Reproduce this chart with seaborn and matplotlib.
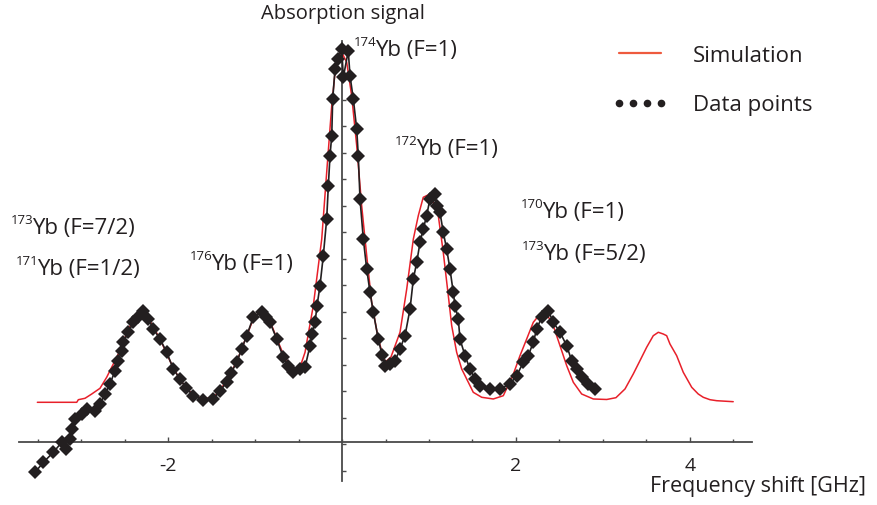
import matplotlib
matplotlib.use("Agg")
import matplotlib.pyplot as plt
from matplotlib.lines import Line2D
from matplotlib.ticker import FixedLocator, NullFormatter
import numpy as np
import pandas as pd
import seaborn as sns

# ---------------- data ----------------
sim_x = [-3.502, -3.049, -3.031, -2.954, -2.877, -2.782, -2.705, -2.629, -2.571, -2.460,
         -2.379, -2.299, -2.207, -2.092, -1.977, -1.862, -1.724, -1.598, -1.471, -1.333,
         -1.207, -1.092, -1.011, -0.931, -0.828, -0.747, -0.667, -0.563, -0.483, -0.425,
         -0.330, -0.233, -0.176, -0.118, -0.080, -0.031, -0.003, 0.054, 0.111, 0.169,
         0.226, 0.284, 0.341, 0.417, 0.494, 0.563, 0.667, 0.744, 0.820, 0.877,
         0.934, 1.011, 1.107, 1.164, 1.222, 1.261, 1.318, 1.376, 1.452, 1.509,
         1.606, 1.739, 1.854, 1.966, 2.046, 2.123, 2.199, 2.276, 2.353, 2.429,
         2.506, 2.583, 2.659, 2.755, 2.889, 3.043, 3.149, 3.253, 3.348, 3.425,
         3.502, 3.578, 3.636, 3.693, 3.732, 3.770, 3.847, 3.923, 4.020, 4.095,
         4.153, 4.230, 4.307, 4.497]
sim_y = [1.498, 1.498, 1.596, 1.649, 1.811, 2.026, 2.442, 2.943, 3.321, 4.226,
         4.717, 4.943, 4.566, 3.887, 3.057, 2.340, 1.811, 1.623, 1.698, 2.264,
         3.057, 4.038, 4.717, 4.943, 4.566, 3.887, 3.245, 2.755, 2.819, 3.385,
         5.143, 7.660, 10.177, 12.691, 13.951, 14.642, 14.706, 14.328, 13.068, 11.181,
         8.917, 7.030, 5.272, 3.887, 3.008, 3.208, 4.140, 5.774, 7.660, 8.540,
         9.234, 9.358, 8.540, 7.158, 5.521, 4.389, 3.385, 2.755, 2.253, 1.875,
         1.687, 1.623, 1.747, 2.528, 3.257, 3.887, 4.517, 4.830, 4.830, 4.389,
         3.634, 2.879, 2.253, 1.811, 1.623, 1.604, 1.672, 2.000, 2.566, 3.068,
         3.574, 4.011, 4.140, 4.075, 4.011, 3.698, 3.257, 2.630, 2.064, 1.811,
         1.687, 1.596, 1.558, 1.521]

data_x = [-3.529, -3.433, -3.318, -3.222, -3.172, -3.126, -3.107, -3.069, -2.992, -2.934,
          -2.839, -2.782, -2.724, -2.667, -2.609, -2.571, -2.532, -2.514, -2.456, -2.399,
          -2.341, -2.290, -2.226, -2.169, -2.092, -2.015, -1.939, -1.862, -1.793, -1.709,
          -1.594, -1.479, -1.402, -1.325, -1.276, -1.210, -1.153, -1.095, -1.020, -0.923,
          -0.874, -0.828, -0.751, -0.675, -0.621, -0.560, -0.483, -0.425, -0.368, -0.345,
          -0.310, -0.287, -0.253, -0.215, -0.176, -0.157, -0.138, -0.118, -0.107, -0.080,
          -0.043, -0.003, 0.015, 0.072, 0.092, 0.130, 0.169, 0.187, 0.207, 0.245,
          0.284, 0.322, 0.360, 0.417, 0.460, 0.494, 0.552, 0.609, 0.667, 0.724,
          0.782, 0.820, 0.859, 0.897, 0.934, 0.973, 1.011, 1.069, 1.088, 1.126,
          1.164, 1.203, 1.241, 1.279, 1.299, 1.337, 1.356, 1.414, 1.471, 1.529,
          1.586, 1.701, 1.816, 1.931, 2.008, 2.084, 2.141, 2.199, 2.238, 2.295,
          2.371, 2.429, 2.506, 2.583, 2.640, 2.697, 2.755, 2.831, 2.908]
data_y = [-1.147, -0.766, -0.389, -0.011, -0.264, 0.113, 0.491, 0.868, 1.057, 1.245,
          1.181, 1.434, 1.811, 2.189, 2.691, 3.068, 3.445, 3.762, 4.140, 4.517,
          4.706, 4.955, 4.642, 4.264, 3.887, 3.385, 2.755, 2.377, 2.038, 1.747,
          1.585, 1.623, 1.925, 2.253, 2.604, 3.008, 3.509, 4.011, 4.706, 4.894,
          4.717, 4.517, 3.887, 3.196, 2.868, 2.630, 2.755, 2.819, 3.634, 4.075,
          4.517, 5.143, 5.898, 7.030, 8.415, 9.672, 10.804, 11.558, 12.943, 14.075,
          14.453, 14.830, 13.762, 14.755, 13.823, 12.943, 11.811, 10.804, 9.170, 7.660,
          6.528, 5.649, 4.894, 3.887, 3.283, 2.879, 2.943, 3.057, 3.509, 4.011,
          5.019, 6.151, 6.781, 7.536, 8.038, 8.540, 9.170, 9.358, 8.917, 8.668,
          7.913, 7.283, 6.528, 5.649, 5.143, 4.642, 3.887, 3.257, 2.755, 2.377,
          2.125, 2.000, 2.000, 2.189, 2.502, 3.008, 3.257, 3.762, 4.264, 4.706,
          4.955, 4.517, 4.140, 3.634, 3.068, 2.755, 2.442, 2.189, 2.000]

x_major = [-2, 2, 4]
x_major_labels = ["-2", "2", "4"]

# peak annotations: (superscript, text, x, y)
peak_labels = [
    ("174", "Yb (F=1)", 0.379, 14.60),
    ("172", "Yb (F=1)", 0.851, 10.87),
    ("170", "Yb (F=1)", 2.299, 8.49),
    ("173", "Yb (F=5/2)", 2.310, 6.906),
    ("173", "Yb (F=7/2)", -3.563, 7.887),
    ("171", "Yb (F=1/2)", -3.506, 6.34),
    ("176", "Yb (F=1)", -1.506, 6.53),
]

# ---------------- style ----------------
sns.set_style("white")
plt.rcParams["font.family"] = ["Open Sans", "DejaVu Sans"]

TXT = "#231f20"
AXC = "#4a4a4a"
RED = "#e8202a"

fig = plt.figure(figsize=(8.77, 5.06), dpi=100)
ax = fig.add_axes([19 / 877, (506 - 482) / 506, 733 / 877, 440 / 506])
ax.set_facecolor("none")

sim_df = pd.DataFrame({"x": sim_x, "y": sim_y})
dat_df = pd.DataFrame({"x": data_x, "y": data_y})

sns.lineplot(data=sim_df, x="x", y="y", ax=ax, sort=False, estimator=None,
             color=RED, linewidth=1.1, zorder=2)
sns.lineplot(data=dat_df, x="x", y="y", ax=ax, sort=False, estimator=None,
             color=TXT, linewidth=1.2, marker="D", markersize=7.5,
             markeredgewidth=0, markerfacecolor=TXT, zorder=3, clip_on=False)

ax.set_xlim(-3.713, 4.713)
ax.set_ylim(-1.472, 15.132)

for s in ["top", "right"]:
    ax.spines[s].set_visible(False)
for s in ["left", "bottom"]:
    ax.spines[s].set_position(("data", 0))
    ax.spines[s].set_color(AXC)
    ax.spines[s].set_linewidth(1.3)
    ax.spines[s].set_zorder(1)

ax.xaxis.set_major_locator(FixedLocator(x_major))
ax.set_xticklabels(x_major_labels)
ax.xaxis.set_minor_locator(FixedLocator(np.arange(-3.5, 4.51, 0.5)))
ax.yaxis.set_major_locator(FixedLocator(np.arange(-2, 15) + 0.91))
ax.yaxis.set_major_formatter(NullFormatter())
ax.tick_params(axis="x", which="both", bottom=True, top=False)
ax.tick_params(axis="y", which="both", left=True, right=False)
ax.tick_params(axis="x", which="major", direction="in", length=3.8, width=1.0,
               color=AXC, labelsize=14, labelcolor=TXT, pad=10)
ax.tick_params(axis="x", which="minor", direction="in", length=2.4, width=1.0, color=AXC)
ax.tick_params(axis="y", which="major", direction="in", length=3.0, width=1.0, color=AXC)
ax.set_xlabel("")
ax.set_ylabel("")

# axis titles
fig.text(343 / 877, 1 - 14 / 506, "Absorption signal", ha="center", va="center",
         fontsize=14.5, color=TXT)
fig.text(758 / 877, 1 - 487 / 506, "Frequency shift [GHz]", ha="center", va="center",
         fontsize=15.5, color=TXT)

# peak labels
for sup, main, lx, ly in peak_labels:
    ax.annotate(main, xy=(lx, ly), ha="left", va="baseline", fontsize=16,
                color=TXT, annotation_clip=False)
    ax.annotate(sup, xy=(lx, ly), xytext=(0.8, 7.2), textcoords="offset points",
                ha="right", va="baseline", fontsize=9.5, color=TXT, annotation_clip=False)

# legend
handles = [Line2D([], [], color="#ee5a3e", lw=1.6),
           Line2D([], [], ls="none", marker="o", ms=5.5, color=TXT, mew=0)]
leg = ax.legend(handles, ["Simulation", "Data points"], loc="upper left",
                bbox_to_anchor=(612 / 877, 1 - 46 / 506), bbox_transform=fig.transFigure,
                frameon=False, fontsize=16, handlelength=2.52, numpoints=4,
                labelspacing=1.28, handletextpad=1.13, borderpad=0, borderaxespad=0)
for t in leg.get_texts():
    t.set_color(TXT)

fig.savefig("out.png", dpi=100)
